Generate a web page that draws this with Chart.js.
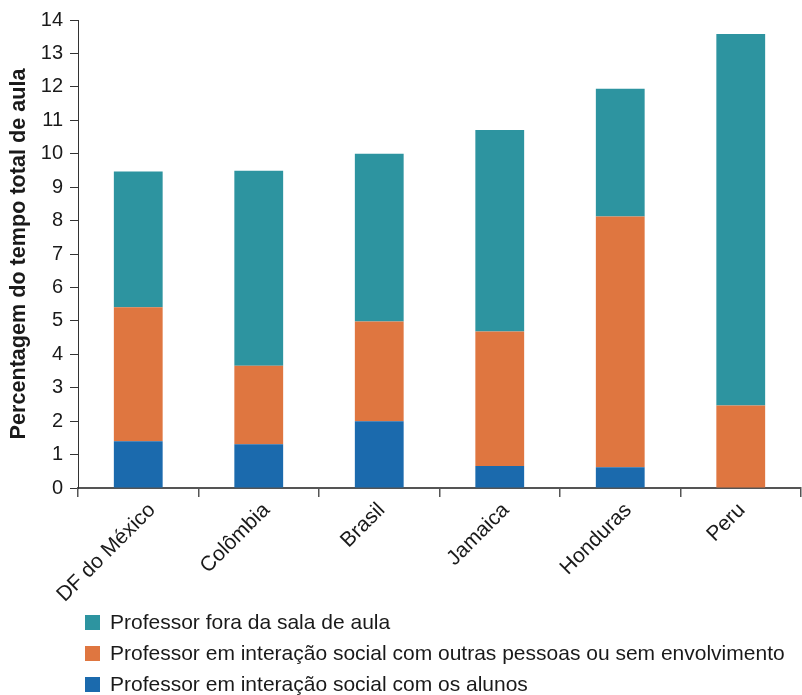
<!DOCTYPE html>
<html>
<head>
<meta charset="utf-8">
<script src="https://cdn.jsdelivr.net/npm/chart.js@4.4.1/dist/chart.umd.min.js"></script>
<style>
  html, body { margin: 0; padding: 0; background: #ffffff; }
  #wrap { position: relative; width: 802px; height: 695px; }
  #c { position: absolute; left: 0; top: 0; }
  .leg { position: absolute; left: 85px; height: 16px; font-family: "Liberation Sans", Arial, sans-serif; font-size: 21px; color: #1a1a1a; white-space: nowrap; }
  .leg .sw { position: absolute; left: 0; top: 0; width: 15px; height: 15px; }
  .leg .tx { position: absolute; left: 25px; top: -5px; line-height: 24px; }
</style>
</head>
<body>
<div id="wrap">
  <canvas id="c" width="802" height="695"></canvas>
  <div id="legend"></div>
</div>
<script>
const categories = ["DF do México", "Colômbia", "Brasil", "Jamaica", "Honduras", "Peru"];
const seriesNames = [
  "Professor em interação social com os alunos",
  "Professor em interação social com outras pessoas ou sem envolvimento",
  "Professor fora da sala de aula"
];
const alunos   = [1.40, 1.31, 2.00, 0.66, 0.62, 0.00];
const outras   = [4.01, 2.35, 2.98, 4.02, 7.50, 2.47];
const fora     = [4.06, 5.83, 5.02, 6.03, 3.82, 11.11];
const yTicks   = [0, 1, 2, 3, 4, 5, 6, 7, 8, 9, 10, 11, 12, 13, 14];
const colors   = ["#1B6AAD", "#DF7640", "#2D94A0"];

const font = "'Liberation Sans', Arial, Helvetica, sans-serif";
const seriesValues = [alunos, outras, fora];

// shifts each rotated x label horizontally in proportion to its text width (as in the reference)
const xLabelShift = {
  id: 'xLabelShift',
  afterLayout(chart) {
    const s = chart.scales.x;
    const items = s.getLabelItems();
    const ctx = chart.ctx;
    items.forEach(it => {
      ctx.save();
      ctx.font = it.font.string;
      const w = ctx.measureText(it.label).width;
      ctx.restore();
      it.options.translation[0] += 0.15 * w - 5.5;
    });
  }
};

new Chart(document.getElementById('c'), {
  type: 'bar',
  data: {
    labels: categories,
    datasets: seriesValues.map((vals, i) => ({
      label: seriesNames[i],
      data: vals,
      backgroundColor: colors[i],
      borderWidth: 0,
      barPercentage: 0.405,
      categoryPercentage: 1.0
    }))
  },
  plugins: [xLabelShift],
  options: {
    responsive: false,
    animation: false,
    events: [],
    layout: { padding: { top: 20, right: 1, bottom: 0, left: 0 } },
    plugins: { legend: { display: false }, tooltip: { enabled: false } },
    scales: {
      x: {
        stacked: true,
        grid: { offset: true, drawOnChartArea: false, drawTicks: true, tickLength: 9, color: '#555555', lineWidth: 1.5 },
        border: { display: true, color: '#555555', width: 2 },
        ticks: {
          minRotation: 45, maxRotation: 45, autoSkip: false,
          labelOffset: 0, padding: 1,
          color: '#1a1a1a', font: { family: font, size: 21 }
        },
        afterFit: (s) => { s.height = 695 - 488; s.paddingLeft = 0; s.paddingRight = 0; }
      },
      y: {
        stacked: true,
        min: 0, max: 14,
        afterBuildTicks: (s) => { s.ticks = yTicks.map(v => ({ value: v })); },
        grid: { drawOnChartArea: false, drawTicks: true, tickLength: 8, color: '#333333' },
        border: { display: true, color: '#333333', width: 1 },
        ticks: { padding: 7, color: '#1a1a1a', font: { family: font, size: 20 } },
        title: {
          display: true,
          text: 'Percentagem do tempo total de aula',
          color: '#1a1a1a',
          font: { family: font, size: 21.6, weight: 'bold' },
          padding: { top: 6, bottom: 0 }
        },
        afterFit: (s) => { s.width = 78; s.paddingTop = 0; s.paddingBottom = 0; }
      }
    }
  }
});

// Legend (top to bottom: teal, orange, blue)
const legendTops = [615, 646, 677];
const legend = document.getElementById('legend');
[2, 1, 0].forEach((idx, row) => {
  const d = document.createElement('div');
  d.className = 'leg';
  d.style.top = legendTops[row] + 'px';
  d.innerHTML = '<div class="sw" style="background:' + colors[idx] + '"></div><div class="tx"></div>';
  d.querySelector('.tx').textContent = seriesNames[idx];
  legend.appendChild(d);
});
</script>
</body>
</html>
